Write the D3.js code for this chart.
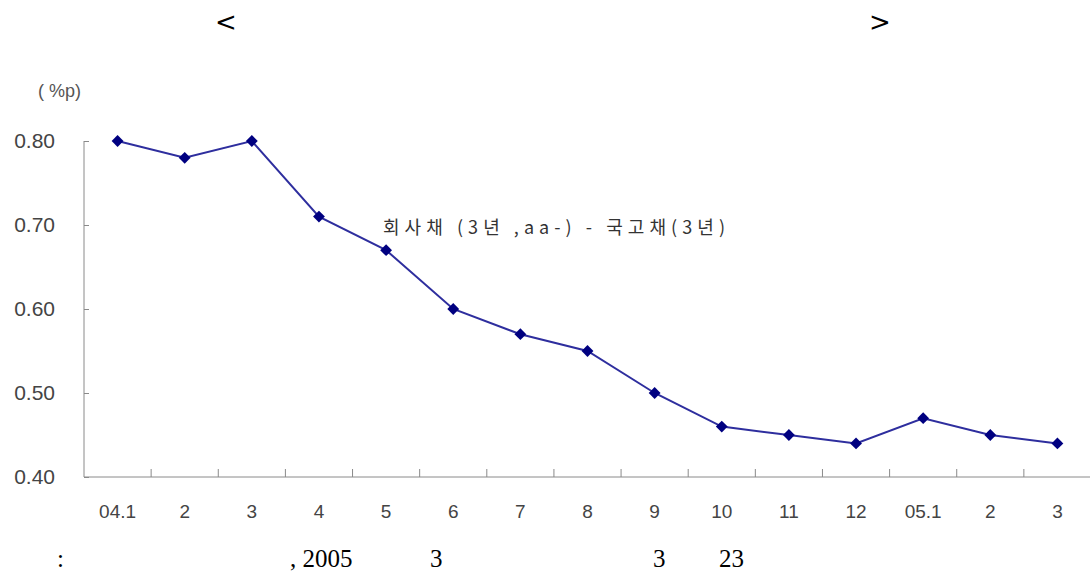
<!DOCTYPE html>
<html><head><meta charset="utf-8">
<script src="https://cdn.jsdelivr.net/npm/d3@7"></script>
<style>body{margin:0;background:#fff}svg{display:block}</style>
</head><body>
<svg id="c" width="1090" height="581"></svg>
<script>
const categories = ["04.1","2","3","4","5","6","7","8","9","10","11","12","05.1","2","3"];
const spreadValues = [0.80,0.78,0.80,0.71,0.67,0.60,0.57,0.55,0.50,0.46,0.45,0.44,0.47,0.45,0.44];
const yTicks = [0.40,0.50,0.60,0.70,0.80];
const seriesLabel = "회사채 (3년 ,aa-) - 국고채(3년)";
const unitLabel = "( %p)";

(function(){
const svg = d3.select("#c");
const mLeft = 84, mRight = 1091, mTop = 141, mBottom = 477;
const x = d3.scaleBand().domain(d3.range(categories.length)).range([mLeft, mRight]);
const y = d3.scaleLinear().domain([0.40, 0.80]).range([mBottom, mTop]);

const axisColor = "#8a8a8a";
const labelColor = "#444";
const sans = "'Liberation Sans', Arial, sans-serif";

// Title brackets
svg.append("text").attr("x", 226).attr("y", 31).attr("text-anchor","middle")
  .attr("font-family","'DejaVu Sans', sans-serif").attr("font-size",26).text("<");
svg.append("text").attr("x", 880).attr("y", 31).attr("text-anchor","middle")
  .attr("font-family","'DejaVu Sans', sans-serif").attr("font-size",26).text(">");

// unit
svg.append("text").attr("x", 38).attr("y", 97)
  .attr("font-family",sans).attr("font-size",18).attr("fill","#555").text(unitLabel);

// Y axis
const yAxis = svg.append("g").attr("transform",`translate(${mLeft},0)`)
  .call(d3.axisRight(y).tickValues(yTicks).tickSize(5).tickFormat(d3.format(".2f")));
yAxis.select(".domain").attr("stroke",axisColor).attr("d",`M0,${mTop}V${mBottom}`);
yAxis.selectAll(".tick line").attr("stroke",axisColor);
yAxis.selectAll(".tick text").attr("x",-29).attr("text-anchor","end")
  .attr("font-family",sans).attr("font-size",21).attr("fill",labelColor);

// X axis
const xAxis = svg.append("g").attr("transform",`translate(0,${mBottom})`)
  .call(d3.axisBottom(x).tickSize(0).tickFormat(i => categories[i]));
xAxis.select(".domain").attr("stroke",axisColor).attr("d",`M${mLeft},0H${mRight}`);
xAxis.selectAll(".tick text").attr("y",41).attr("dy",0)
  .attr("font-family",sans).attr("font-size",19).attr("fill",labelColor);
// boundary ticks pointing up
const bounds = d3.range(1, categories.length).map(i => x(i));
svg.append("g").selectAll("line").data(bounds).join("line")
  .attr("x1",d=>d).attr("x2",d=>d).attr("y1",mBottom).attr("y2",mBottom-8)
  .attr("stroke",axisColor);

// line
const cx = i => x(i) + x.bandwidth()/2;
svg.append("path").datum(spreadValues)
  .attr("fill","none").attr("stroke","#2e2e9e").attr("stroke-width",2)
  .attr("d", d3.line().x((d,i)=>cx(i)).y(d=>y(d)));
svg.append("g").selectAll("path").data(spreadValues).join("path")
  .attr("d", d3.symbol(d3.symbolSquare, 70))
  .attr("transform",(d,i)=>`translate(${cx(i)},${y(d)}) rotate(45)`)
  .attr("fill","#000080");

// series label
svg.append("text").attr("x",383).attr("y",234)
  .attr("font-family","'Noto Sans CJK KR', sans-serif").attr("font-size",18).attr("fill","#333")
  .attr("textLength",342).attr("lengthAdjust","spacing").text(seriesLabel);

// footnote fragments
const serif = "'Liberation Serif', serif";
[[57,":"],[290,", 2005"],[430,"3"],[653,"3"],[719,"23"]].forEach(([px,t])=>{
  svg.append("text").attr("x",px).attr("y",567).attr("font-family",serif)
    .attr("font-size",25).attr("fill","#000").text(t);
});
})();
</script>
</body></html>
